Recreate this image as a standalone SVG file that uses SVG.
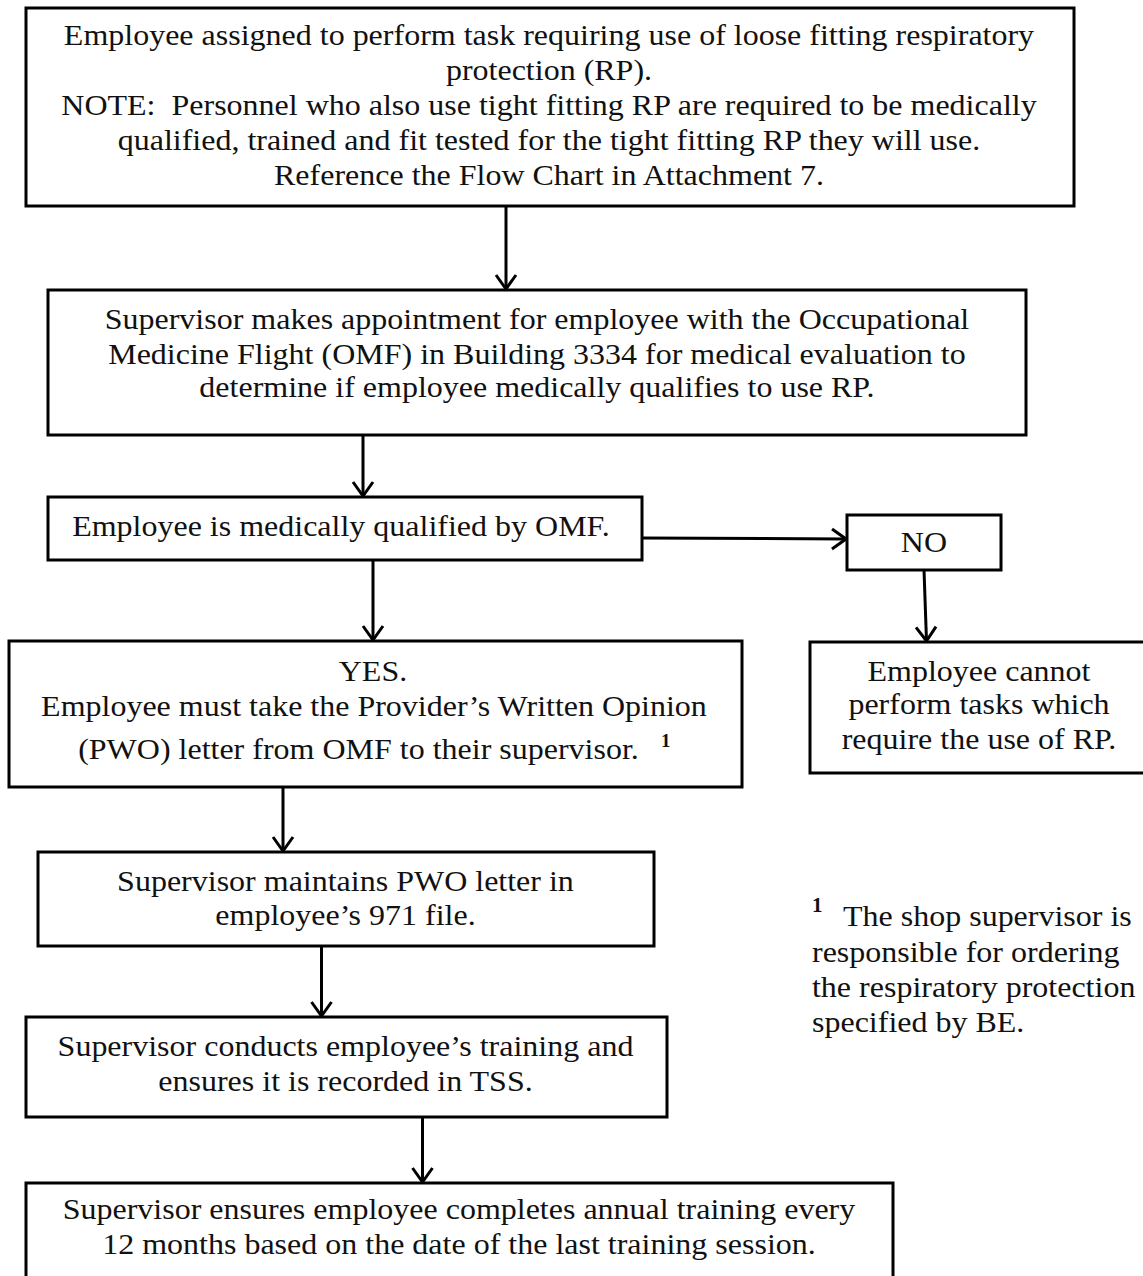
<svg xmlns="http://www.w3.org/2000/svg" width="1143" height="1276" viewBox="0 0 1143 1276">
  <style>
    .box { fill: #fff; stroke: #000; stroke-width: 3; }
    .lbl { font-family: "Liberation Serif", "Times New Roman", serif; font-size: 32px; fill: #111; text-anchor: middle;
           transform-box: fill-box; transform-origin: center; transform: scaleY(0.9); }
    .left { text-anchor: start; }
    .sup { font-family: "Liberation Serif", "Times New Roman", serif; font-weight: bold; fill: #111; }
    .flow { fill: none; stroke: #000; stroke-width: 3; }
  </style>
  <defs>
    <marker id="arrow" viewBox="-17 -13 19 26" refX="0" refY="0" markerWidth="19" markerHeight="26" markerUnits="userSpaceOnUse" orient="auto">
      <path d="M-14,-10 L0,0 L-14,10" fill="none" stroke="#000" stroke-width="3"/>
    </marker>
  </defs>
  <rect width="1143" height="1276" fill="#fff"/>

  <g id="connectors">
    <line class="flow" x1="506" y1="206" x2="506" y2="289" marker-end="url(#arrow)"/>
    <line class="flow" x1="363" y1="435" x2="363" y2="496" marker-end="url(#arrow)"/>
    <line class="flow" x1="373" y1="560" x2="373" y2="640" marker-end="url(#arrow)"/>
    <line class="flow" x1="642" y1="538" x2="846" y2="539" marker-end="url(#arrow)"/>
    <line class="flow" x1="924" y1="570" x2="926.5" y2="641" marker-end="url(#arrow)"/>
    <line class="flow" x1="283" y1="787" x2="283" y2="851" marker-end="url(#arrow)"/>
    <line class="flow" x1="321.5" y1="946" x2="321.5" y2="1016" marker-end="url(#arrow)"/>
    <line class="flow" x1="422.5" y1="1117" x2="422.5" y2="1182" marker-end="url(#arrow)"/>
  </g>

  <g id="assigned">
    <rect class="box" x="26" y="8" width="1048" height="198"/>
    <text class="lbl" x="549" y="46">Employee assigned to perform task requiring use of loose fitting respiratory</text>
    <text class="lbl" x="549" y="81">protection (RP).</text>
    <text class="lbl" x="549" y="116">NOTE:&#160; Personnel who also use tight fitting RP are required to be medically</text>
    <text class="lbl" x="549" y="151">qualified, trained and fit tested for the tight fitting RP they will use.</text>
    <text class="lbl" x="549" y="186">Reference the Flow Chart in Attachment 7.</text>
  </g>

  <g id="appointment">
    <rect class="box" x="48" y="290" width="978" height="145"/>
    <text class="lbl" x="537" y="330">Supervisor makes appointment for employee with the Occupational</text>
    <text class="lbl" x="537" y="365">Medicine Flight (OMF) in Building 3334 for medical evaluation to</text>
    <text class="lbl" x="537" y="398">determine if employee medically qualifies to use RP.</text>
  </g>

  <g id="qualified">
    <rect class="box" x="48" y="497" width="594" height="63"/>
    <text class="lbl" x="341" y="537">Employee is medically qualified by OMF.</text>
  </g>

  <g id="no">
    <rect class="box" x="847" y="515" width="154" height="55"/>
    <text class="lbl" x="924" y="553">NO</text>
  </g>

  <g id="cannot">
    <rect class="box" x="810" y="642" width="350" height="131"/>
    <text class="lbl" x="979" y="682">Employee cannot</text>
    <text class="lbl" x="979" y="715">perform tasks which</text>
    <text class="lbl" x="979" y="750">require the use of RP.</text>
  </g>

  <g id="yes">
    <rect class="box" x="9" y="641" width="733" height="146"/>
    <text class="lbl" x="373" y="682">YES.</text>
    <text class="lbl" x="374" y="717">Employee must take the Provider’s Written Opinion</text>
    <text class="lbl" x="358.5" y="760">(PWO) letter from OMF to their supervisor.</text>
    <text class="sup" x="661" y="747" font-size="19">1</text>
  </g>

  <g id="pwo-file">
    <rect class="box" x="38" y="852" width="616" height="94"/>
    <text class="lbl" x="345.5" y="892">Supervisor maintains PWO letter in</text>
    <text class="lbl" x="345.5" y="926">employee’s 971 file.</text>
  </g>

  <g id="training">
    <rect class="box" x="26" y="1017" width="641" height="100"/>
    <text class="lbl" x="345.5" y="1057">Supervisor conducts employee’s training and</text>
    <text class="lbl" x="345.5" y="1092">ensures it is recorded in TSS.</text>
  </g>

  <g id="annual">
    <rect class="box" x="26" y="1183" width="867" height="120"/>
    <text class="lbl" x="459" y="1220">Supervisor ensures employee completes annual training every</text>
    <text class="lbl" x="459" y="1255">12 months based on the date of the last training session.</text>
  </g>

  <g id="footnote">
    <text class="sup" x="812" y="912" font-size="21">1</text>
    <text class="lbl left" x="843" y="927">The shop supervisor is</text>
    <text class="lbl left" x="812" y="963">responsible for ordering</text>
    <text class="lbl left" x="812" y="998">the respiratory protection</text>
    <text class="lbl left" x="812" y="1033">specified by BE.</text>
  </g>
</svg>
